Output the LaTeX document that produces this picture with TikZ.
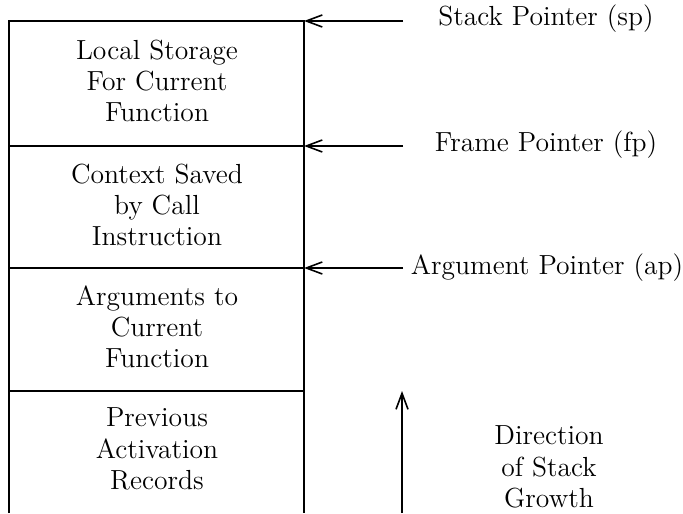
\documentclass[tikz,border=0pt]{standalone}
\usetikzlibrary{arrows.meta}
\tikzset{
  txt/.style={align=center,font=\fontsize{13.8}{15.6}\selectfont,inner sep=0pt},
  ptr/.style={-{Straight Barb[length=8pt,width=6pt]},line width=0.8pt},
}
\begin{document}
\begin{tikzpicture}[x=0.5pt,y=-0.5pt,line width=0.8pt]
\useasboundingbox (0,0) rectangle (683,513);
\draw (9,513) -- (9,21) -- (304,21) -- (304,513);	%stack frame
\draw (9,146) -- (304,146);
\draw (9,268) -- (304,268);
\draw (9,391) -- (304,391);
\node[txt] (local) at (157,81) {Local Storage\\For Current\\Function};
\node[txt] (context) at (157,205) {Context Saved\\by Call\\Instruction};
\node[txt] (args) at (157,327) {Arguments to\\Current\\Function};
\node[txt] (prev) at (157,449) {Previous\\Activation\\Records};
\coordinate (spfrom) at (403,21);	\coordinate (spto) at (304,21);
\coordinate (fpfrom) at (403,146);	\coordinate (fpto) at (304,146);
\coordinate (apfrom) at (403,268);	\coordinate (apto) at (304,268);
\coordinate (grfrom) at (402,513);	\coordinate (grto) at (402,391);
\draw[ptr] (spfrom) -- (spto);
\draw[ptr] (fpfrom) -- (fpto);
\draw[ptr] (apfrom) -- (apto);
\draw[ptr] (grfrom) -- (grto);
\node[txt] (sp) at (546,19) {Stack Pointer (sp)};
\node[txt] (fp) at (546,145) {Frame Pointer (fp)};
\node[txt] (ap) at (547,268) {Argument Pointer (ap)};
\node[txt] (growth) at (549,467) {Direction\\of Stack\\Growth};
\end{tikzpicture}
\end{document}
